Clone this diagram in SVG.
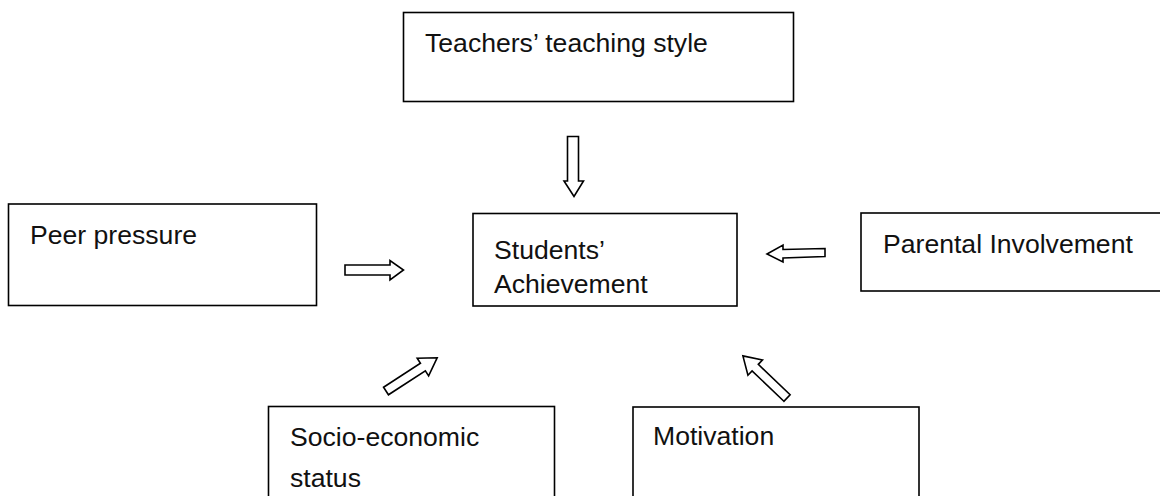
<svg xmlns="http://www.w3.org/2000/svg" width="1160" height="496" viewBox="0 0 1160 496">
<style>
.box{fill:#fff;stroke:#000;stroke-width:1.6}
.lbl{font-family:"Liberation Sans",Arial,sans-serif;font-size:26.6px;fill:#111}
.arr{fill:#fff;stroke:#000;stroke-width:1.6;stroke-linejoin:miter}
</style>
<defs>
<polygon id="diag" points="0,-4.5 44,-4.5 44,-10.5 61,0 44,10.5 44,4.5 0,4.5"/>
</defs>
<rect width="1160" height="496" fill="#fff"/>
<g id="teachers">
<rect class="box" x="403.5" y="12.5" width="390" height="89"/>
<text class="lbl" x="425" y="52">Teachers’ teaching style</text>
</g>
<g id="students">
<rect class="box" x="473" y="213.5" width="264" height="92.5"/>
<text class="lbl" x="494" y="259">Students’</text>
<text class="lbl" x="494" y="293">Achievement</text>
</g>
<g id="peer">
<rect class="box" x="8.5" y="204" width="308" height="101.5"/>
<text class="lbl" x="30" y="244">Peer pressure</text>
</g>
<g id="parental">
<rect class="box" x="861" y="213" width="304" height="78"/>
<text class="lbl" x="883" y="253">Parental Involvement</text>
</g>
<g id="socio">
<rect class="box" x="268.5" y="406.5" width="286" height="100"/>
<text class="lbl" x="290" y="446">Socio-economic</text>
<text class="lbl" x="290" y="487">status</text>
</g>
<g id="motivation">
<rect class="box" x="633" y="407" width="286" height="100"/>
<text class="lbl" x="653" y="445">Motivation</text>
</g>
<g id="connectors">
<polygon class="arr" points="567.5,136.5 578.5,136.5 578.5,181 583.5,181 574,196.5 564,181 567.5,181"/>
<polygon class="arr" points="345,265 390,265 390,260.5 403.5,270 390,280 390,275 345,275"/>
<polygon class="arr" points="825,248.5 825,256.5 783,258 783,262 767,254 783,245 783,249.5"/>
<use href="#diag" class="arr" transform="translate(386,391) rotate(-33)"/>
<use href="#diag" class="arr" transform="translate(787,398) rotate(-136.3)"/>
</g>
</svg>
